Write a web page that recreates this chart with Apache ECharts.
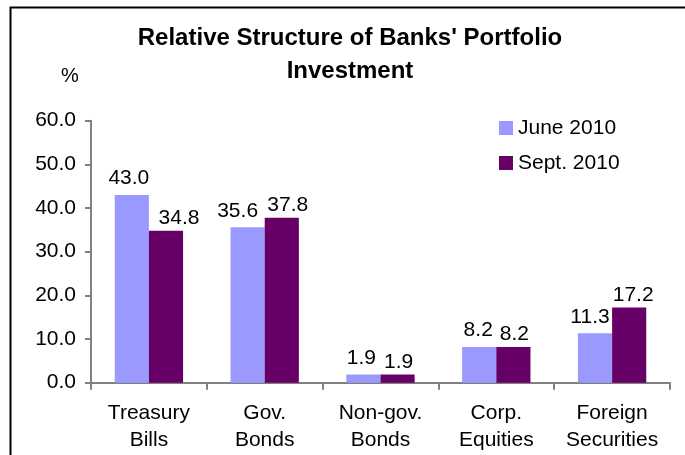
<!DOCTYPE html>
<html>
<head>
<meta charset="utf-8">
<script src="https://cdn.jsdelivr.net/npm/echarts@6/dist/echarts.min.js"></script>
<style>
  html, body { margin: 0; padding: 0; background: #ffffff; }
  #chart { width: 685px; height: 455px; }
</style>
</head>
<body>
<div id="chart"></div>
<script>
// Portfolio structure by instrument, in percent
const categories = ['Treasury\nBills', 'Gov.\nBonds', 'Non-gov.\nBonds', 'Corp.\nEquities', 'Foreign\nSecurities'];
const june2010 = [43.0, 35.6, 1.9, 8.2, 11.3];
const sept2010 = [34.8, 37.8, 1.9, 8.2, 17.2];
const seriesNames = ['June 2010', 'Sept. 2010'];

// horizontal nudges for the value labels (px), kept apart from the data
const juneLabelShift = [-3, -10, -2, -1, -5];
const septLabelShift = [13, 6, 1, 1, 4];

const FONT = '"Liberation Sans", Arial, sans-serif';
const axisGray = '#808080';

const chart = echarts.init(document.getElementById('chart'), null, { renderer: 'canvas' });

const valueLabel = {
  show: true,
  position: 'top',
  distance: 6,
  color: '#000',
  fontFamily: FONT,
  fontSize: 21,
  formatter: p => p.value.toFixed(1)
};

function withLabelShift(values, shifts, dy) {
  return values.map((v, i) => ({ value: v, label: { offset: [shifts[i], dy] } }));
}

chart.setOption({
  animation: false,
  backgroundColor: '#ffffff',
  title: {
    text: "Relative Structure of Banks' Portfolio\nInvestment",
    left: 350,
    top: 22,
    padding: 0,
    textAlign: 'center',
    textStyle: {
      fontFamily: FONT,
      fontWeight: 'bold',
      fontSize: 24,
      lineHeight: 33,
      color: '#000'
    }
  },
  graphic: [
    {
      type: 'rect',
      shape: { x: 10.5, y: 7.5, width: 700, height: 500 },
      style: { fill: 'none', stroke: '#000', lineWidth: 2 },
      silent: true
    },
    {
      type: 'text',
      x: 70,
      y: 76,
      style: {
        text: '%', fontFamily: FONT, fontSize: 20, fill: '#000',
        textAlign: 'center', textVerticalAlign: 'middle'
      }
    }
  ],
  legend: {
    left: 499,
    top: 117.5,
    padding: 0,
    orient: 'vertical',
    itemWidth: 14,
    itemHeight: 14,
    itemGap: 14,
    icon: 'rect',
    data: seriesNames,
    textStyle: { fontFamily: FONT, fontSize: 21, lineHeight: 21, color: '#000' }
  },
  grid: {
    left: 91,
    right: 15,
    top: 120.7,
    bottom: 72.3,
    containLabel: false
  },
  xAxis: {
    type: 'category',
    data: categories,
    axisLine: { show: true, lineStyle: { color: axisGray, width: 2 } },
    axisTick: { show: true, length: 7, lineStyle: { color: axisGray, width: 2 }, alignWithLabel: false },
    axisLabel: {
      interval: 0,
      color: '#000',
      fontFamily: FONT,
      fontSize: 21,
      lineHeight: 27,
      margin: 17
    }
  },
  yAxis: {
    type: 'value',
    min: 0,
    max: 60,
    interval: 10,
    axisLine: { show: true, lineStyle: { color: axisGray, width: 2 } },
    axisTick: { show: true, length: 6, lineStyle: { color: axisGray, width: 2 } },
    splitLine: { show: false },
    axisLabel: {
      color: '#000',
      fontFamily: FONT,
      fontSize: 21,
      margin: 15,
      formatter: v => v.toFixed(1)
    }
  },
  series: [
    {
      name: seriesNames[0],
      type: 'bar',
      data: withLabelShift(june2010, juneLabelShift, 0),
      barGap: '0%',
      barCategoryGap: '41%',
      itemStyle: { color: '#9999FF' },
      label: valueLabel
    },
    {
      name: seriesNames[1],
      type: 'bar',
      data: withLabelShift(sept2010, septLabelShift, 4),
      barGap: '0%',
      barCategoryGap: '41%',
      itemStyle: { color: '#660066' },
      label: valueLabel
    }
  ]
});
</script>
</body>
</html>
